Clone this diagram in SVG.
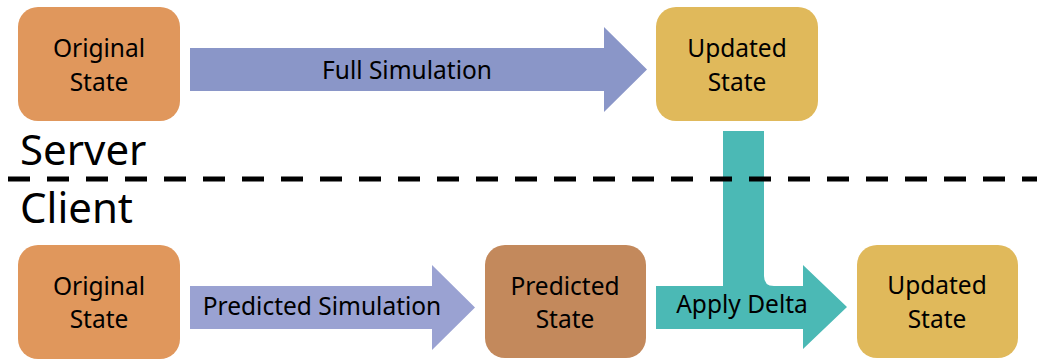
<svg xmlns="http://www.w3.org/2000/svg" width="1037" height="360" viewBox="0 0 1037 360">
  <style>
    .lbl { font-family: "Noto Sans", "Open Sans", sans-serif; font-size: 24.5px; fill: #000; text-anchor: middle; }
    .big { font-family: "Noto Sans", "Open Sans", sans-serif; font-size: 42px; fill: #000; }
    .orig { fill: #E0975C; }
    .upd { fill: #E0B95B; }
    .pred { fill: #C3895C; }
  </style>
  <rect width="1037" height="360" fill="#fff"/>
  <g id="connectors">
    <path id="full-sim" d="M190,48 H604 V27 L647,69.5 L604,112 V91 H190 Z" fill="#8A96C8"/>
    <path id="pred-sim" d="M190,286 H432 V265 L475,307.5 L432,350 V329 H190 Z" fill="#9AA2D2"/>
    <path id="apply-delta" d="M723,131 H764 V276 Q764,286 774,286 H803 V265 L847,307 L803,349 V329 H656 V286 H723 Z" fill="#4BB9B5"/>
    <text class="lbl" x="407" y="79">Full Simulation</text>
    <text class="lbl" x="322" y="315">Predicted Simulation</text>
    <text class="lbl" x="742" y="313">Apply Delta</text>
  </g>
  <g id="divider">
    <line x1="8" y1="179" x2="1037" y2="179" stroke="#000" stroke-width="5" stroke-dasharray="22 17"/>
    <text class="big" x="20" y="165">Server</text>
    <text class="big" x="20" y="223">Client</text>
  </g>
  <g id="server-original">
    <rect class="orig" x="18" y="7" width="162" height="114" rx="20"/>
    <text class="lbl" x="99" y="57">Original</text>
    <text class="lbl" x="99" y="91">State</text>
  </g>
  <g id="server-updated">
    <rect class="upd" x="656" y="7" width="162" height="114" rx="20"/>
    <text class="lbl" x="737" y="57">Updated</text>
    <text class="lbl" x="737" y="91">State</text>
  </g>
  <g id="client-original">
    <rect class="orig" x="18" y="245" width="162" height="114" rx="20"/>
    <text class="lbl" x="99" y="295">Original</text>
    <text class="lbl" x="99" y="328">State</text>
  </g>
  <g id="client-predicted">
    <rect class="pred" x="485" y="245" width="161" height="113" rx="20"/>
    <text class="lbl" x="565" y="295">Predicted</text>
    <text class="lbl" x="565" y="328">State</text>
  </g>
  <g id="client-updated">
    <rect class="upd" x="857" y="245" width="161" height="113" rx="20"/>
    <text class="lbl" x="937" y="294">Updated</text>
    <text class="lbl" x="937" y="328">State</text>
  </g>
</svg>
